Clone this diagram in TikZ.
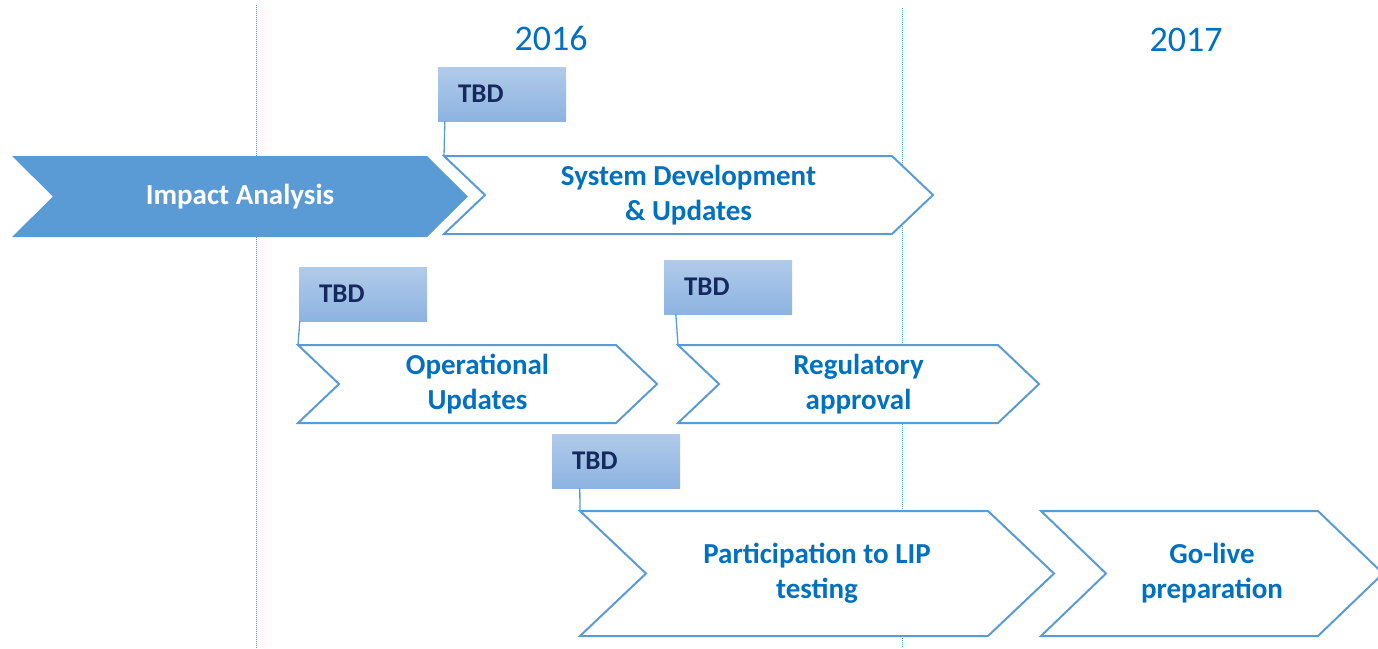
\documentclass[tikz,border=0pt]{standalone}
\usepackage{fontspec}
\setmainfont{Carlito}
\usetikzlibrary{backgrounds}

\definecolor{phaseblue}{HTML}{5B9BD5}
\definecolor{textblue}{HTML}{0070C0}
\definecolor{tbdnavy}{HTML}{142A5C}
\definecolor{tbdtop}{HTML}{B1CBEA}
\definecolor{tbdbottom}{HTML}{8DB3E1}

\tikzset{
    phase/.style={rectangle, inner sep=0pt, outer sep=0pt, align=center,
        text=textblue, font=\fontsize{29}{35}\selectfont\bfseries},
    chevline/.style={draw=phaseblue, line width=2pt, fill=white},
    chevfill/.style={fill=phaseblue},
    tbdbox/.style={rectangle, top color=tbdtop, bottom color=tbdbottom,
        minimum height=54pt, text width=88pt, inner xsep=20pt, inner ysep=0pt,
        align=left, text=tbdnavy, font=\fontsize{27}{32}\selectfont\bfseries},
    tbdlink/.style={draw=phaseblue, line width=1.3pt},
    yearlabel/.style={text=textblue, font=\fontsize{36}{43}\selectfont},
    yearline/.style={draw=phaseblue, densely dotted, line width=1pt}
}

% arrow outline round node #1, notch depth #2
\newcommand{\chevron}[2]{(#1.north west) -- ([xshift=-#2]#1.north east)
    -- (#1.east) -- ([xshift=-#2]#1.south east) -- (#1.south west)
    -- ([xshift=#2]#1.west) -- cycle}

\begin{document}
\begin{tikzpicture}[x=1pt, y=-1pt]
    \useasboundingbox (0,0) rectangle (1378,648);

    % year separators
    \begin{pgfonlayer}{background}
        \draw[yearline] (256,5) -- (256,648);
        \draw[yearline] (902,8) -- (902,648);
    \end{pgfonlayer}
    \node[yearlabel] (y2016) at (551,38) {2016};
    \node[yearlabel] (y2017) at (1186,40) {2017};

    % phases
    \node[phase, text=white, minimum width=456pt, minimum height=81pt]
        (impact) at (240,196.5) {Impact Analysis};
    \node[phase, minimum width=489pt, minimum height=78pt]
        (sysdev) at (688.5,195) {System Development\\\& Updates};
    \node[phase, minimum width=359pt, minimum height=78pt]
        (oper) at (477.5,384) {Operational\\Updates};
    \node[phase, minimum width=361pt, minimum height=78pt]
        (regul) at (858.5,384) {Regulatory\\approval};
    \node[phase, minimum width=474pt, minimum height=125pt]
        (lip) at (817,573.5) {Participation to LIP\\testing};
    \node[phase, minimum width=342pt, minimum height=125pt]
        (golive) at (1212,573.5) {Go-live\\preparation};
    \begin{pgfonlayer}{background}
        \fill[chevfill] \chevron{impact}{41pt};
        \draw[chevline] \chevron{sysdev}{41pt};
        \draw[chevline] \chevron{oper}{41pt};
        \draw[chevline] \chevron{regul}{41pt};
        \draw[chevline] \chevron{lip}{66pt};
        \draw[chevline] \chevron{golive}{65pt};
    \end{pgfonlayer}

    % TBD flags
    \node[tbdbox] (tbdsys) at (502,94) {TBD};
    \node[tbdbox] (tbdoper) at (363,294) {TBD};
    \node[tbdbox] (tbdregul) at (728,287) {TBD};
    \node[tbdbox] (tbdlip) at (616,461) {TBD};
    \draw[tbdlink] ([xshift=7pt]tbdsys.south west) -- (sysdev.north west);
    \draw[tbdlink] ([xshift=1pt]tbdoper.south west) -- (oper.north west);
    \draw[tbdlink] ([xshift=12pt]tbdregul.south west) -- (regul.north west);
    \draw[tbdlink] ([xshift=28pt]tbdlip.south west) -- (lip.north west);
\end{tikzpicture}
\end{document}
